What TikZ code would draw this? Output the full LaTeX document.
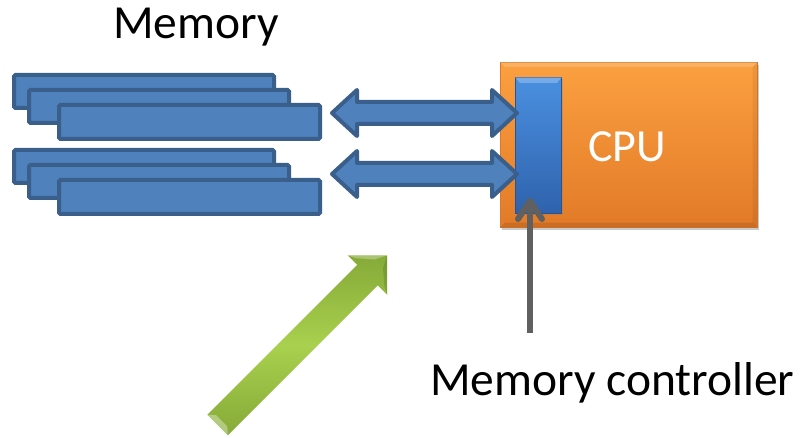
\documentclass[tikz,border=0pt]{standalone}
\usepackage{fontspec}
\setmainfont{Carlito}
\usetikzlibrary{arrows.meta,shadows,calc}

\definecolor{ramfill}{HTML}{4F81BD}
\definecolor{ramedge}{HTML}{3A5F8B}
\definecolor{cputop}{HTML}{FBA040}
\definecolor{cpubot}{HTML}{E27A28}
\definecolor{cpuedge}{HTML}{D9782E}
\definecolor{mctop}{HTML}{4A90E0}
\definecolor{mcbot}{HTML}{2F62AC}
\definecolor{mcedge}{HTML}{2A5490}
\definecolor{pointer}{HTML}{606060}
\definecolor{greenlight}{HTML}{A9D04E}
\definecolor{greendark}{HTML}{86AA38}

\tikzset{
  ram/.style={draw=ramedge, fill=ramfill, line width=4pt, rounded corners=1.5pt},
  bus/.style={draw=ramedge, fill=ramfill, line width=4pt, line join=round},
  label/.style={font=\fontsize{47.5}{52}\selectfont, text=black, inner sep=0pt},
}

\begin{document}
\begin{tikzpicture}[x=1pt, y=-1pt]
  \useasboundingbox (0,0) rectangle (802,438);

  % memory modules, two stacks of three
  \foreach \dy/\g in {0/a, 75/b}{
    \draw[ram] (14,75+\dy)  rectangle (274,108+\dy);
    \draw[ram] (29,90+\dy)  rectangle (289,123+\dy);
    \draw[ram] (59,105+\dy) rectangle (320,139+\dy);
  }
  \coordinate (memA) at (320,113);
  \coordinate (memB) at (320,174);

  \node[label, anchor=base west] (memlabel) at (113,39) {Memory};

  % CPU package
  \node[draw=cpuedge, line width=0.6pt, top color=cputop, bottom color=cpubot,
        minimum width=257pt, minimum height=165pt, anchor=north west,
        drop shadow={shadow xshift=2pt, shadow yshift=-3pt, opacity=0.35, fill=black!60},
        inner sep=0pt] (cpu) at (500,62) {};
  % bevelled rim
  \fill[white, opacity=0.18] (cpu.north west) -- (cpu.north east) -- ++(-5,5) -- ($(cpu.north west)+(5,5)$) -- cycle;
  \fill[black, opacity=0.10] (cpu.south west) -- (cpu.south east) -- ++(-5,-5) -- ($(cpu.south west)+(5,-5)$) -- cycle;
  \fill[black, opacity=0.06] (cpu.north east) -- (cpu.south east) -- ++(-5,-5) -- ($(cpu.north east)+(-5,5)$) -- cycle;
  \node[label, text=white, font=\fontsize{46}{50}\selectfont, anchor=base] (cpulabel) at (627,162) {CPU};

  % memory controller on the die
  \node[draw=mcedge, line width=0.8pt, top color=mctop, bottom color=mcbot,
        minimum width=46pt, minimum height=136pt, anchor=north west,
        drop shadow={shadow xshift=1.5pt, shadow yshift=-2pt, opacity=0.3},
        inner sep=0pt] (mc) at (515,77) {};
  \fill[white, opacity=0.25] (mc.north west) -- (mc.north east) -- ++(-5,6) -- ($(mc.north west)+(5,6)$) -- cycle;

  % double-headed buses between memory and controller
  \foreach \cy in {113,174}{
    \draw[bus] (332,\cy) -- (357,\cy-23) -- (357,\cy-11) -- (492,\cy-11)
      -- (492,\cy-23) -- (517,\cy) -- (492,\cy+23) -- (492,\cy+11)
      -- (357,\cy+11) -- (357,\cy+23) -- cycle;
  }

  % pointer from the caption to the controller
  \node[label, anchor=base west] (mclabel) at (430,395) {Memory controller};
  \coordinate (ptail) at (530,333);
  \coordinate (ptip) at (530,198);
  \draw[pointer, line width=6pt] (ptail) -- ($(ptip)+(0,3)$);
  \draw[pointer, line width=6pt, line cap=round, line join=round]
    ($(ptip)+(-12,21)$) -- ($(ptip)+(0,3)$) -- ($(ptip)+(12,21)$);

  % green block arrow pointing up-right
  \begin{scope}[shift={(217.5,425)}, rotate=45]
    \shade[left color=greendark, right color=greendark, middle color=greenlight, shading angle=0]
      (0,-14.5) -- (212,-14.5) -- (212,-28) -- (240,0) -- (212,28) -- (212,14.5) -- (0,14.5) -- cycle;
    \fill[white, opacity=0.35] (0,-14.5) -- (6,-8) -- (6,8) -- (0,14.5) -- cycle;
    \fill[white, opacity=0.30] (212,-28) -- (216,-20) -- (228,-6) -- (240,0) -- cycle;
    \fill[black, opacity=0.12] (212,28) -- (216,20) -- (228,6) -- (240,0) -- cycle;
  \end{scope}
  \coordinate (gtip) at (387,255);
\end{tikzpicture}
\end{document}
